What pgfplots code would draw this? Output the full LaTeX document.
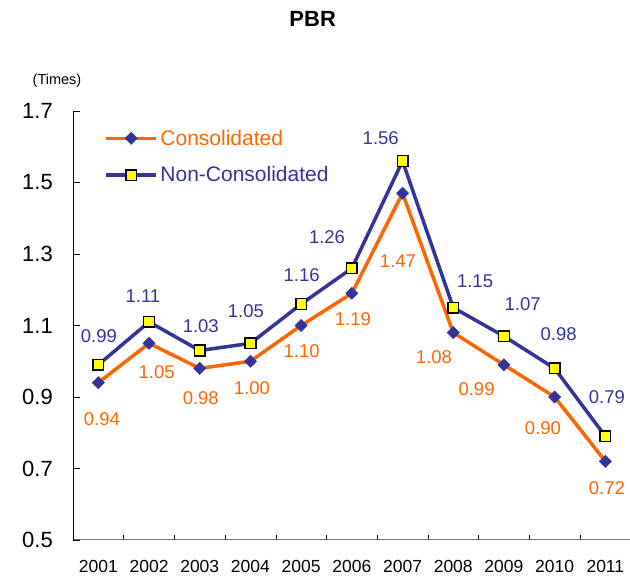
\documentclass[border=0pt]{standalone}
\usepackage{fontspec}
\setmainfont{Liberation Sans}
\usepackage{pgfplots}
\pgfplotsset{compat=1.18}
\definecolor{cons}{HTML}{FF6600}
\definecolor{noncons}{HTML}{333399}
\definecolor{mk}{HTML}{FFFF00}

\begin{document}
\begin{tikzpicture}
\useasboundingbox (0,0) rectangle (630pt,577pt);
\begin{axis}[
  at={(73pt,37pt)}, anchor=south west,
  scale only axis, width=557.7pt, height=429pt,
  xmin=-0.5, xmax=10.5, ymin=0.5, ymax=1.7,
  axis x line=bottom, axis y line=left,
  axis line style={-},
  x axis line style={draw=black!55, line width=1pt},
  y axis line style={draw=black, line width=0.8pt},
  tick align=inside,
  xtick={0,...,10}, xticklabels={2001,2002,2003,2004,2005,2006,2007,2008,2009,2010,2011},
  major x tick style={draw=none},
  minor xtick={0.5,1.5,...,9.5},
  minor tick length=5pt,
  minor x tick style={black, line width=0.6pt},
  ytick={0.5,0.7,...,1.7},
  major tick length=7pt,
  y tick style={black, line width=0.6pt},
  yticklabel style={font=\fontsize{22}{24}\selectfont, inner sep=0pt, anchor=east, xshift=-20pt},
  xticklabel style={font=\fontsize{17.5}{19}\selectfont, inner sep=0pt, anchor=north, yshift=-20pt},
  /pgf/number format/.cd, fixed, fixed zerofill, precision=1, assume math mode=true,
  /pgfplots/.cd,
  clip=false,
  legend cell align=left,
  legend style={at={(0.056,0.962)}, anchor=north west, draw=none, fill=none,
    font=\fontsize{21}{21}\selectfont, row sep=15pt, inner sep=0pt,
    nodes={inner sep=2.5pt}},
  legend image code/.code={\draw[mark repeat=2, mark phase=2, #1]
    plot coordinates {(0pt,0pt)(25pt,0pt)(50pt,0pt)};},
]
\addplot[cons, line width=3.5pt, mark=square*, mark size=4.3pt,
  mark options={solid, rotate=45, fill=noncons, draw=noncons, line width=0.5pt}]
  coordinates {(0,0.94)(1,1.05)(2,0.98)(3,1.00)(4,1.10)(5,1.19)(6,1.47)(7,1.08)(8,0.99)(9,0.90)(10,0.72)};
\addlegendentry{\textcolor{cons}{Consolidated}}
\addplot[noncons, line width=3.5pt, mark=square*, mark size=5.3pt,
  mark options={solid, fill=mk, draw=black, line width=1.5pt}]
  coordinates {(0,0.99)(1,1.11)(2,1.03)(3,1.05)(4,1.16)(5,1.26)(6,1.56)(7,1.15)(8,1.07)(9,0.98)(10,0.79)};
\addlegendentry{\textcolor{noncons}{Non-Consolidated}}

% data labels, non-consolidated
\begin{scope}[every node/.style={text=noncons, font=\fontsize{18.5}{20}\selectfont, inner sep=0pt}]
\node at (axis cs:0.01,1.071) {0.99};
\node at (axis cs:0.88,1.183) {1.11};
\node at (axis cs:2.02,1.099) {1.03};
\node at (axis cs:2.91,1.141) {1.05};
\node at (axis cs:4.01,1.241) {1.16};
\node at (axis cs:4.51,1.348) {1.26};
\node at (axis cs:5.57,1.624) {1.56};
\node at (axis cs:7.43,1.224) {1.15};
\node at (axis cs:8.37,1.160) {1.07};
\node at (axis cs:9.08,1.076) {0.98};
\node at (axis cs:10.03,0.900) {0.79};
\end{scope}
% data labels, consolidated
\begin{scope}[every node/.style={text=cons, font=\fontsize{18.5}{20}\selectfont, inner sep=0pt}]
\node at (axis cs:0.07,0.838) {0.94};
\node at (axis cs:1.15,0.970) {1.05};
\node at (axis cs:2.02,0.897) {0.98};
\node at (axis cs:3.03,0.925) {1.00};
\node at (axis cs:4.01,1.029) {1.10};
\node at (axis cs:5.02,1.118) {1.19};
\node at (axis cs:5.91,1.280) {1.47};
\node at (axis cs:6.62,1.012) {1.08};
\node at (axis cs:7.46,0.922) {0.99};
\node at (axis cs:8.77,0.813) {0.90};
\node at (axis cs:10.03,0.645) {0.72};
\end{scope}
\end{axis}
\node[font=\bfseries\fontsize{22}{24}\selectfont] at (312.7pt,558.5pt) {PBR};
\node[font=\fontsize{14.5}{15}\selectfont, inner sep=0pt] at (57pt,496pt) {(Times)};
\end{tikzpicture}
\end{document}
